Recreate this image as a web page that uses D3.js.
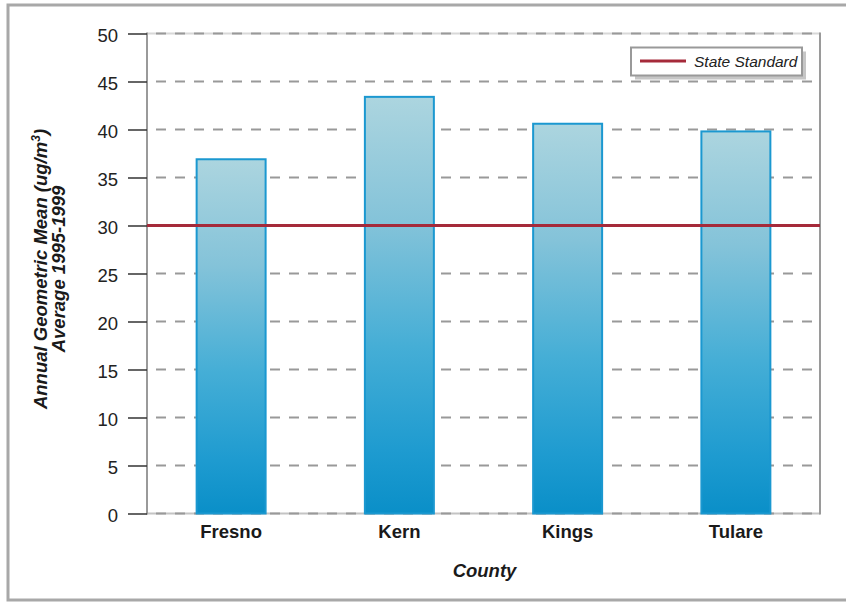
<!DOCTYPE html>
<html>
<head>
<meta charset="utf-8">
<script src="https://cdn.jsdelivr.net/npm/d3@7"></script>
<style>
  html, body { margin: 0; padding: 0; background: #fff; }
  svg { display: block; }
  text { font-family: "Liberation Sans", Arial, Helvetica, sans-serif; }
</style>
</head>
<body>
<svg id="chart" width="846" height="603"></svg>
<script>
// County PM10 annual geometric means, 1995-1999 average (ug/m3)
const counties = ["Fresno", "Kern", "Kings", "Tulare"];
const values = [36.9, 43.4, 40.6, 39.8];
const yTicks = [0, 5, 10, 15, 20, 25, 30, 35, 40, 45, 50];
const stateStandard = 30;
const legendLabel = "State Standard";
const xTitle = "County";
const yTitleLines = ["Annual Geometric Mean (ug/m", "Average 1995-1999"];

const svg = d3.select("#chart");
const plot = { left: 147, right: 820, top: 33.5, bottom: 513.5 };

// outer frame
svg.append("rect")
  .attr("x", 8).attr("y", 5)
  .attr("width", 860).attr("height", 595)
  .attr("fill", "none")
  .attr("stroke", "#a8a8a8")
  .attr("stroke-width", 3);

const x = d3.scaleBand()
  .domain(counties)
  .range([plot.left, plot.right])
  .paddingInner(0.59)
  .paddingOuter(0.295);

const y = d3.scaleLinear()
  .domain([0, 50])
  .range([plot.bottom, plot.top]);

// gradient for bars
const defs = svg.append("defs");
const grad = defs.append("linearGradient")
  .attr("id", "barGrad")
  .attr("x1", 0).attr("y1", 0).attr("x2", 0).attr("y2", 1);
[[0, "#acd5df"], [0.3, "#84c3d9"], [0.6, "#45aed6"], [0.85, "#1e9bd0"], [1, "#0a8fc8"]]
  .forEach(([o, c]) => grad.append("stop").attr("offset", o).attr("stop-color", c));

// light frame lines at top and bottom of plot
svg.append("line")
  .attr("x1", plot.left).attr("x2", plot.right)
  .attr("y1", plot.top).attr("y2", plot.top)
  .attr("stroke", "#d8d8d8").attr("stroke-width", 2);
svg.append("line")
  .attr("x1", plot.left).attr("x2", plot.right)
  .attr("y1", plot.bottom).attr("y2", plot.bottom)
  .attr("stroke", "#c4c4c4").attr("stroke-width", 2);

// dashed gridlines
svg.append("g").selectAll("line")
  .data(yTicks)
  .join("line")
  .attr("x1", plot.left).attr("x2", plot.right)
  .attr("y1", d => y(d)).attr("y2", d => y(d))
  .attr("stroke", "#999")
  .attr("stroke-width", 2)
  .attr("stroke-dasharray", "10 9")
  .attr("stroke-dashoffset", 10);

// bars
svg.append("g").selectAll("rect")
  .data(counties.map((c, i) => ({ c, v: values[i] })))
  .join("rect")
  .attr("x", d => x(d.c))
  .attr("y", d => y(d.v))
  .attr("width", x.bandwidth())
  .attr("height", d => y(0) - y(d.v))
  .attr("fill", "url(#barGrad)")
  .attr("stroke", "#1b98d0")
  .attr("stroke-width", 2);

// axis lines: left and right borders
svg.append("line")
  .attr("x1", plot.left).attr("x2", plot.left)
  .attr("y1", plot.top - 1).attr("y2", plot.bottom + 1)
  .attr("stroke", "#9a9a9a").attr("stroke-width", 2);
svg.append("line")
  .attr("x1", plot.right).attr("x2", plot.right)
  .attr("y1", plot.top - 1).attr("y2", plot.bottom + 1)
  .attr("stroke", "#9a9a9a").attr("stroke-width", 2);

// y axis ticks and labels
const yAxis = d3.axisLeft(y)
  .tickValues(yTicks)
  .tickSize(19)
  .tickPadding(10)
  .tickFormat(d3.format("d"));
const yg = svg.append("g")
  .attr("transform", `translate(${plot.left},0)`)
  .call(yAxis);
yg.select(".domain").remove();
yg.selectAll(".tick line").attr("stroke", "#333").attr("stroke-width", 1.5);
yg.selectAll(".tick text")
  .attr("fill", "#222")
  .attr("font-size", 18.5)
  .attr("dy", "0.45em");

// x axis labels
const xAxis = d3.axisBottom(x).tickSize(0).tickPadding(0);
const xg = svg.append("g")
  .attr("transform", `translate(0,${plot.bottom})`)
  .call(xAxis);
xg.select(".domain").remove();
xg.selectAll(".tick text")
  .attr("dy", null)
  .attr("y", 24.5)
  .attr("fill", "#1a1a1a")
  .attr("font-size", 18.5)
  .attr("font-weight", "bold");

// state standard line
svg.append("line")
  .attr("x1", plot.left).attr("x2", plot.right)
  .attr("y1", y(stateStandard)).attr("y2", y(stateStandard))
  .attr("stroke", "#a52a3a")
  .attr("stroke-width", 3);

// axis titles
svg.append("text")
  .attr("x", (plot.left + plot.right) / 2 + 1)
  .attr("y", 577)
  .attr("text-anchor", "middle")
  .attr("font-size", 18.5)
  .attr("font-weight", "bold")
  .attr("font-style", "italic")
  .attr("fill", "#1a1a1a")
  .text(xTitle);

const yt = svg.append("text")
  .attr("transform", "translate(46.5,269) rotate(-90)")
  .attr("text-anchor", "middle")
  .attr("font-size", 18.5)
  .attr("font-weight", "bold")
  .attr("font-style", "italic")
  .attr("fill", "#1a1a1a");
yt.append("tspan").attr("x", 0).attr("y", 0).text(yTitleLines[0])
  .append("tspan").attr("baseline-shift", "super").attr("font-size", 12).text("3");
yt.append("tspan").text(")");
yt.append("tspan").attr("x", 0).attr("y", 18.5).text(yTitleLines[1]);

// legend
const lg = svg.append("g").attr("transform", "translate(631,47.5)");
lg.append("rect")
  .attr("x", 4).attr("y", 4).attr("width", 171).attr("height", 28)
  .attr("fill", "#c6c6c6");
lg.append("rect")
  .attr("x", 0).attr("y", 0).attr("width", 171).attr("height", 28)
  .attr("fill", "#fff").attr("stroke", "#999").attr("stroke-width", 2);
lg.append("line")
  .attr("x1", 9).attr("x2", 55).attr("y1", 13.5).attr("y2", 13.5)
  .attr("stroke", "#a52a3a").attr("stroke-width", 3);
lg.append("text")
  .attr("x", 63).attr("y", 19.5)
  .attr("font-size", 15.5)
  .attr("font-style", "italic")
  .attr("fill", "#222")
  .text(legendLabel);
</script>
</body>
</html>
